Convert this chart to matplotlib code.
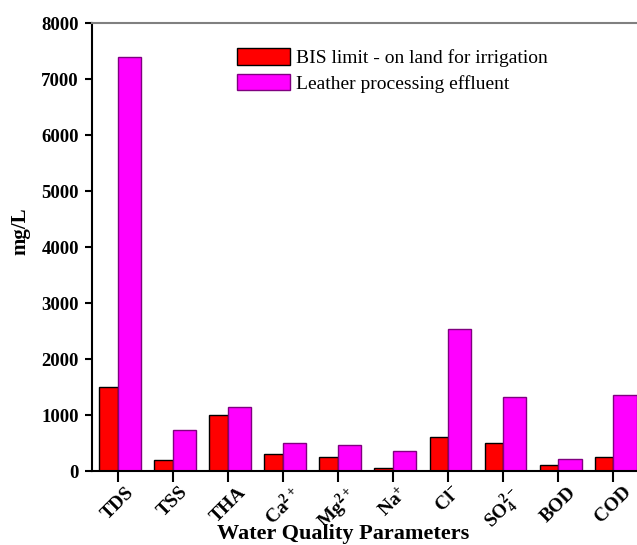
import numpy as np
import matplotlib
matplotlib.use("Agg")
import matplotlib.pyplot as plt

plt.rcParams['font.family'] = ['Liberation Serif', 'DejaVu Serif']
plt.rcParams['mathtext.fontset'] = 'custom'
plt.rcParams['mathtext.rm'] = 'Liberation Serif:bold'
plt.rcParams['mathtext.default'] = 'rm'

# values (mg/L)
params = ['TDS', 'TSS', 'THA', 'Ca$^{2+}$', 'Mg$^{2+}$', 'Na$^{+}$',
          'Cl$^{-}$', 'SO$_{4}^{2-}$', 'BOD', 'COD']
bis_limit = [1500, 200, 1000, 300, 250, 50, 600, 500, 100, 250]
leather_effluent = [7400, 730, 1150, 505, 460, 360, 2530, 1330, 220, 1350]

x = np.arange(len(params))

W, H = 637, 545
fig = plt.figure(figsize=(W / 100, H / 100), dpi=100)
ax = fig.add_axes([92 / W, (H - 471) / H, (641 - 92) / W, (471 - 23) / H])

ax.bar(x, bis_limit, width=-0.34, align='edge', color='#ff0000',
       edgecolor='black', linewidth=1.0, label='BIS limit - on land for irrigation')
ax.bar(x, leather_effluent, width=0.42, align='edge', color='#ff00ff',
       edgecolor='#800080', linewidth=1.0, label='Leather processing effluent')

ax.set_xlim(-0.47, 9.5)
ax.set_ylim(0, 8000)
ax.set_yticks(range(0, 8001, 1000))
ax.set_xticks(x)
ax.set_xticklabels(params, rotation=45, ha='center', va='top',
                   fontweight='bold', fontsize=14)
for lab in ax.get_yticklabels():
    lab.set_fontweight('bold')
    lab.set_fontsize(13.5)

ax.spines['right'].set_visible(False)
ax.spines['top'].set_color('gray')
ax.spines['top'].set_linewidth(1.5)
ax.spines['left'].set_linewidth(1.5)
ax.spines['bottom'].set_linewidth(1.5)
ax.tick_params(axis='x', direction='out', length=8, width=1.5, pad=1)
ax.tick_params(axis='y', direction='out', length=5, width=1.5, pad=4.5)

ax.set_xlabel('Water Quality Parameters', fontsize=16, fontweight='bold')
ax.xaxis.label.set_va('baseline')
ax.xaxis.set_label_coords((343 - 92) / 549, (471 - 539) / 448)
ax.set_ylabel('mg/L', fontsize=15, fontweight='bold')
ax.yaxis.label.set_va('center')
ax.yaxis.set_label_coords((20 - 92) / 549, (471 - 231) / 448)

ax.legend(loc='upper left', bbox_to_anchor=(0.25, 0.962), frameon=False,
          fontsize=14, handlelength=2.7, handleheight=0.95,
          handletextpad=0.35, labelspacing=0.35, borderaxespad=0)

plt.savefig("out.png", dpi=100)
